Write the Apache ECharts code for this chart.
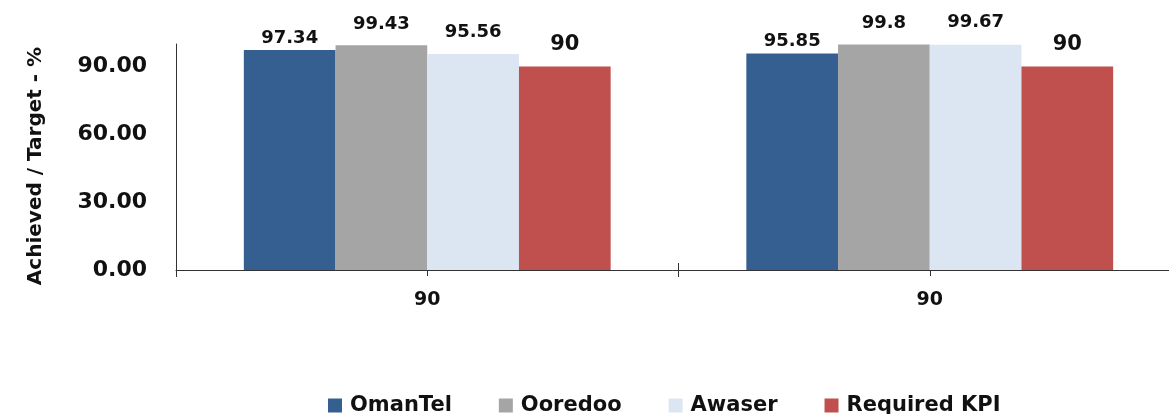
<!DOCTYPE html>
<html>
<head>
<meta charset="utf-8">
<script src="https://cdn.jsdelivr.net/npm/echarts@6/dist/echarts.min.js"></script>
<style>
html,body{margin:0;padding:0;background:#fff;overflow:hidden;}
#chart{width:1169px;height:414px;}
</style>
</head>
<body>
<div id="chart"></div>
<script>
const categories = ['90', '90'];
const omantel = [97.34, 95.85];
const ooredoo = [99.43, 99.8];
const awaser = [95.56, 99.67];
const requiredKPI = [90, 90];
const seriesNames = ['OmanTel', 'Ooredoo', 'Awaser', 'Required KPI'];
const seriesColors = ['#365F91', '#A5A5A5', '#DCE6F2', '#C0504D'];
const yAxisTitle = 'Achieved / Target - %';

const FONT = 'DejaVu Sans';
const chart = echarts.init(document.getElementById('chart'), null, {renderer: 'canvas'});

function bar(name, data, color, dist, size) {
  return {
    name: name,
    type: 'bar',
    xAxisIndex: 0,
    data: data,
    barGap: '0%',
    barCategoryGap: '27%',
    itemStyle: {color: color},
    label: {
      show: true,
      position: 'top',
      distance: dist,
      color: '#111',
      fontFamily: FONT,
      fontWeight: 'bold',
      fontSize: size,
      formatter: p => String(p.value)
    }
  };
}

chart.setOption({
  animation: false,
  backgroundColor: '#fff',
  grid: {left: 176, width: 1005, top: 44, bottom: 144, containLabel: false, outerBoundsMode: 'none'},
  legend: {
    data: seriesNames,
    left: 328,
    top: 395,
    padding: 0,
    itemWidth: 14,
    itemHeight: 14,
    itemGap: 47,
    icon: 'rect',
    textStyle: {fontFamily: FONT, fontWeight: 'bold', fontSize: 21, color: '#111', padding: [0, 0, 0, 3]}
  },
  xAxis: [
    {
      type: 'category',
      data: categories,
      position: 'bottom',
      axisLine: {show: true, lineStyle: {color: '#333', width: 1}},
      axisTick: {show: true, length: 7, lineStyle: {color: '#333'}},
      axisLabel: {margin: 21, fontFamily: FONT, fontWeight: 'bold', fontSize: 19, color: '#111'}
    },
    {
      type: 'category',
      data: categories,
      position: 'bottom',
      axisLine: {show: false},
      axisTick: {show: true, inside: true, length: 7, lineStyle: {color: '#333'}},
      axisLabel: {show: false}
    },
    {
      type: 'category',
      data: categories,
      position: 'bottom',
      axisLine: {show: false},
      axisTick: {show: true, alignWithLabel: true, length: 6, lineStyle: {color: '#333'}},
      axisLabel: {show: false}
    }
  ],
  yAxis: {
    type: 'value',
    min: 0,
    max: 100,
    interval: 30,
    name: yAxisTitle,
    nameLocation: 'middle',
    nameGap: 130,
    nameTextStyle: {fontFamily: FONT, fontWeight: 'bold', fontSize: 20, color: '#111', padding: [0, 18, 0, 0]},
    axisLine: {show: true, lineStyle: {color: '#333', width: 1}},
    axisTick: {show: false},
    splitLine: {show: false},
    axisLabel: {
      showMaxLabel: false,
      margin: 29,
      fontFamily: FONT,
      fontWeight: 'bold',
      fontSize: 22,
      color: '#111',
      formatter: v => v.toFixed(2)
    }
  },
  series: [
    bar(seriesNames[0], omantel, seriesColors[0], 3, 18),
    bar(seriesNames[1], ooredoo, seriesColors[1], 12, 18),
    bar(seriesNames[2], awaser, seriesColors[2], 13, 18),
    bar(seriesNames[3], requiredKPI, seriesColors[3], 12, 21)
  ]
});
</script>
</body>
</html>
